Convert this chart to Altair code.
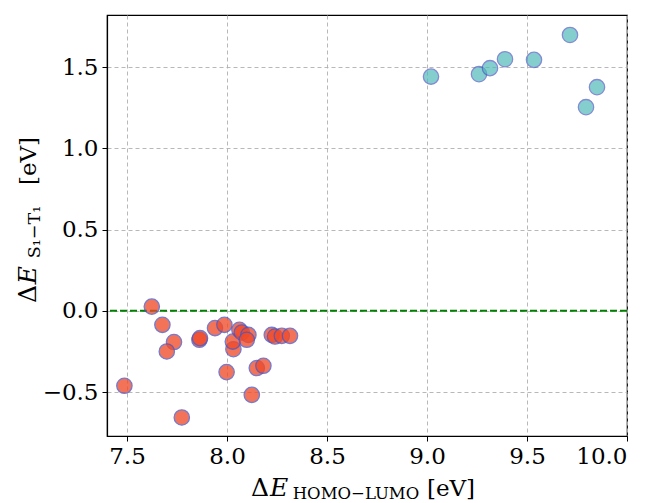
import altair as alt
import pandas as pd

# ---- data ----
cyan_x = [9.02, 9.26, 9.315, 9.39, 9.535, 9.715, 9.795, 9.85]
cyan_y = [1.441, 1.456, 1.493, 1.548, 1.544, 1.697, 1.253, 1.376]

red_x = [7.624, 7.677, 7.735, 7.699, 7.487, 7.774, 7.862, 7.865, 7.94, 7.987,
         7.998, 8.032, 8.029, 8.062, 8.074, 8.107, 8.099, 8.124, 8.149, 8.182,
         8.224, 8.24, 8.274, 8.315]
red_y = [0.026, -0.086, -0.192, -0.250, -0.461, -0.656, -0.178, -0.168, -0.106, -0.086,
         -0.377, -0.236, -0.189, -0.117, -0.133, -0.148, -0.178, -0.517, -0.352, -0.338,
         -0.148, -0.158, -0.154, -0.154]

x_ticks = [7.5, 8.0, 8.5, 9.0, 9.5, 10.0]
y_ticks = [-0.5, 0.0, 0.5, 1.0, 1.5]

cyan_df = pd.DataFrame({"x": cyan_x, "y": cyan_y})
red_df = pd.DataFrame({"x": red_x, "y": red_y})

FONT = "DejaVu Serif"
W, H = 520, 421

xscale = alt.Scale(domain=[7.4, 10.0], nice=False, zero=False)
yscale = alt.Scale(domain=[-0.77, 1.82], nice=False, zero=False)

axis_style = dict(labelFont=FONT, labelFontSize=23, labelColor="black",
                  tickColor="black", tickSize=5, tickWidth=1,
                  domainColor="black", domainWidth=1.2,
                  gridColor="#b0b0b0", gridDash=[4, 3], gridWidth=0.9,
                  labelPadding=4, title=None, grid=True)

xaxis = alt.Axis(values=x_ticks, format=".1f", **axis_style)
yaxis = alt.Axis(values=y_ticks,
                 labelExpr="replace(format(datum.value, '.1f'), '-', '−')",
                 **axis_style)

zero_line = alt.Chart(alt.Data(values=[{}])).mark_rule(
    color="#008000", strokeWidth=2, strokeDash=[7, 3]
).encode(y=alt.datum(0, scale=yscale))

red_pts = alt.Chart(red_df).mark_circle(
    size=235, fill="#f04a28", stroke="#4a55c0", strokeWidth=1.3, opacity=0.77
).encode(x=alt.X("x:Q", scale=xscale, axis=xaxis),
         y=alt.Y("y:Q", scale=yscale, axis=yaxis))

cyan_pts = alt.Chart(cyan_df).mark_circle(
    size=235, fill="#4cb8b8", stroke="#4a55c0", strokeWidth=1.3, opacity=0.68
).encode(x=alt.X("x:Q", scale=xscale), y=alt.Y("y:Q", scale=yscale))


def txt(text, x, y, size, angle=0, italic=False):
    props = dict(text=text, font=FONT, fontSize=size, color="black",
                 align="center", baseline="alphabetic", angle=angle)
    if italic:
        props["fontStyle"] = "italic"
    return alt.Chart(alt.Data(values=[{}])).mark_text(**props).encode(
        x=alt.value(x), y=alt.value(y))


# x-axis title: ΔE_{HOMO−LUMO} [eV]
xt = [
    txt("Δ", 153, 481, 25),
    txt("E", 172, 481, 25, italic=True),
    txt("HOMO−LUMO", 249, 484, 16.5),
    txt("[eV]", 344, 481, 23),
]
# y-axis title: ΔE_{S1−T1} [eV] (rotated)
yt = [
    txt("Δ", -71, 279, 25, angle=270),
    txt("E", -71, 260, 25, angle=270, italic=True),
    txt("S₁−T₁", -67, 217, 17.5, angle=270),
    txt("[eV]", -71, 146, 23, angle=270),
]

chart = alt.layer(zero_line, red_pts, cyan_pts, *xt, *yt).properties(
    width=W, height=H,
    autosize=alt.AutoSizeParams(type="none"),
    padding={"left": 99, "top": 7, "right": 16, "bottom": 67},
).configure_view(
    stroke="black", strokeWidth=1.2
)

chart.save("out.html", embed_options={"renderer": "svg", "actions": False})
